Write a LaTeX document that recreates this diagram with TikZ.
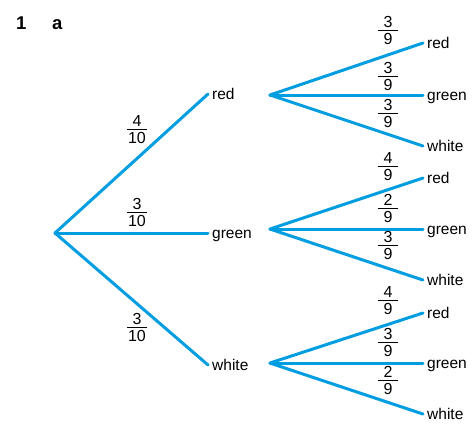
\documentclass[tikz,border=0pt]{standalone}
\usepackage{fontspec}
\setmainfont{Liberation Sans}
\definecolor{treeblue}{RGB}{0,158,224}
\newcommand{\frc}[2]{\vbox{\offinterlineskip\halign{\hfil##\hfil\cr\rule{0pt}{11.4pt}#1\cr\noalign{\kern2.4pt}\rule{20pt}{0.8pt}\cr\noalign{\kern2.4pt}\rule{0pt}{11.4pt}#2\cr}}}
\begin{document}
\begin{tikzpicture}[x=1pt,y=-1pt,
  branch/.style={draw=treeblue,line width=3pt,line cap=round},
  lab/.style={inner xsep=4pt,inner ysep=0pt,text height=10pt,text depth=0pt,anchor=west,font=\fontsize{15.5}{18}\selectfont},
  frac/.style={inner sep=0pt,font=\fontsize{16}{19}\selectfont},
  head/.style={inner sep=0pt,anchor=base west,font=\fontsize{18.5}{21}\selectfont\bfseries}]
\useasboundingbox (0,0) rectangle (472,426);
\node[head] (n1) at (16,29) {1};
\node[head] (na) at (52,29) {a};
% first level
\coordinate (root) at (55,233);
\node[lab] (r) at (208,94) {red};
\node[lab] (g) at (208,233) {green};
\node[lab] (w) at (208,365) {white};
\draw[branch] (root) -- (r.west);
\draw[branch] (root) -- (g.west);
\draw[branch] (root) -- (w.west);
\node[frac] (f1) at (137,129) {\frc{4}{10}};
\node[frac] (f2) at (137,212) {\frc{3}{10}};
\node[frac] (f3) at (137,327) {\frc{3}{10}};
% second level, group 1
\coordinate (s1) at (270,95);
\node[lab] (rr) at (423,43) {red};
\node[lab] (rg) at (423,95) {green};
\node[lab] (rw) at (423,146) {white};
\draw[branch] (s1) -- (rr.west);
\draw[branch] (s1) -- (rg.west);
\draw[branch] (s1) -- (rw.west);
\node[frac] (f11) at (388,30.5) {\frc{3}{9}};
\node[frac] (f12) at (388,76) {\frc{3}{9}};
\node[frac] (f13) at (388,113) {\frc{3}{9}};
% group 2
\coordinate (s2) at (270,229);
\node[lab] (gr) at (423,178) {red};
\node[lab] (gg) at (423,229) {green};
\node[lab] (gw) at (423,280) {white};
\draw[branch] (s2) -- (gr.west);
\draw[branch] (s2) -- (gg.west);
\draw[branch] (s2) -- (gw.west);
\node[frac] (f21) at (388,166) {\frc{4}{9}};
\node[frac] (f22) at (388,208) {\frc{2}{9}};
\node[frac] (f23) at (388,245) {\frc{3}{9}};
% group 3
\coordinate (s3) at (270,363);
\node[lab] (wr) at (423,313) {red};
\node[lab] (wg) at (423,363) {green};
\node[lab] (ww) at (423,414) {white};
\draw[branch] (s3) -- (wr.west);
\draw[branch] (s3) -- (wg.west);
\draw[branch] (s3) -- (ww.west);
\node[frac] (f31) at (388,300) {\frc{4}{9}};
\node[frac] (f32) at (388,342) {\frc{3}{9}};
\node[frac] (f33) at (388,380) {\frc{2}{9}};
\end{tikzpicture}
\end{document}
